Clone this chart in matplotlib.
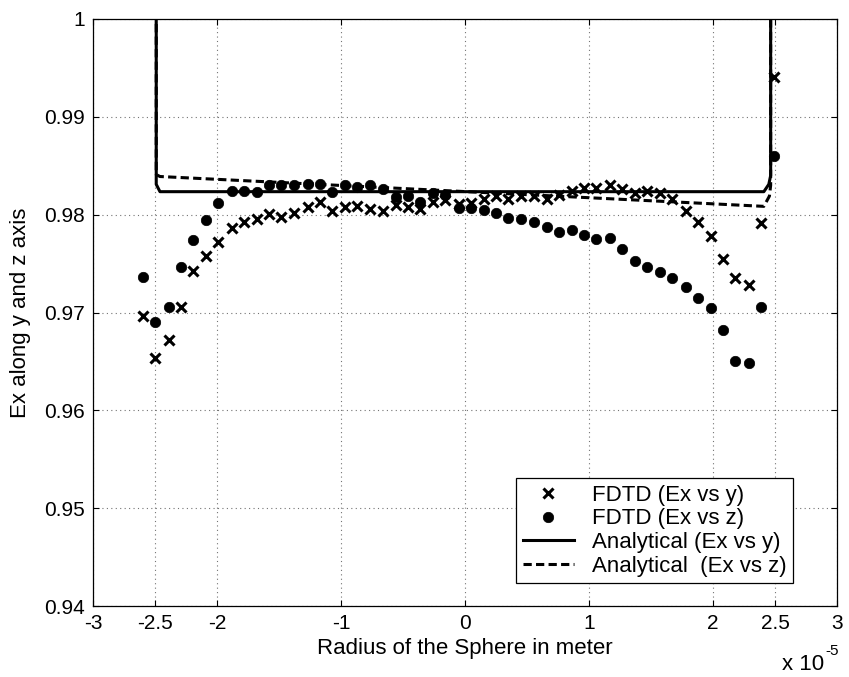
import numpy as np
import matplotlib
matplotlib.use("Agg")
import matplotlib.pyplot as plt

plt.rcParams['font.family'] = ['Liberation Sans', 'DejaVu Sans']

# radius positions (x 1e-5 m) of the FDTD samples
r = [-2.60, -2.50, -2.39, -2.29, -2.19, -2.09, -1.99, -1.88, -1.78, -1.68,
     -1.58, -1.48, -1.38, -1.27, -1.17, -1.07, -0.97, -0.87, -0.77, -0.66,
     -0.56, -0.46, -0.36, -0.26, -0.16, -0.05, 0.05, 0.15, 0.25, 0.35,
     0.45, 0.56, 0.66, 0.76, 0.86, 0.96, 1.06, 1.17, 1.27, 1.37,
     1.47, 1.57, 1.67, 1.78, 1.88, 1.98, 2.08, 2.18, 2.29, 2.39, 2.49]

# FDTD, Ex vs y
ex_y = [0.9696, 0.9653, 0.9672, 0.9706, 0.9742, 0.9758, 0.9772, 0.9786, 0.9792, 0.9796,
        0.9801, 0.9798, 0.9802, 0.9808, 0.9813, 0.9804, 0.9808, 0.9809, 0.9806, 0.9804,
        0.9810, 0.9808, 0.9806, 0.9813, 0.9815, 0.9811, 0.9812, 0.9816, 0.9819, 0.9816,
        0.9819, 0.9819, 0.9816, 0.9820, 0.9824, 0.9827, 0.9827, 0.9830, 0.9826, 0.9822,
        0.9824, 0.9822, 0.9816, 0.9804, 0.9793, 0.9778, 0.9755, 0.9735, 0.9728, 0.9791, 0.9941]

# FDTD, Ex vs z
ex_z = [0.9736, 0.9690, 0.9706, 0.9747, 0.9774, 0.9795, 0.9812, 0.9824, 0.9824, 0.9823,
        0.9830, 0.9830, 0.9830, 0.9831, 0.9831, 0.9823, 0.9830, 0.9828, 0.9830, 0.9826,
        0.9818, 0.9819, 0.9813, 0.9822, 0.9820, 0.9807, 0.9807, 0.9805, 0.9802, 0.9797,
        0.9796, 0.9792, 0.9787, 0.9782, 0.9784, 0.9779, 0.9775, 0.9776, 0.9765, 0.9753,
        0.9747, 0.9741, 0.9735, 0.9726, 0.9715, 0.9705, 0.9682, 0.9650, 0.9648, 0.9706, 0.9860]

# analytical curves (go off the top outside the sphere)
ana_y_r = [-2.49, -2.49, -2.46, 2.41, 2.45, 2.465, 2.465]
ana_y = [1.05, 0.9831, 0.98235, 0.98235, 0.9831, 0.9840, 1.05]
ana_z_r = [-2.49, -2.49, -2.46, 2.41, 2.455, 2.465, 2.465]
ana_z = [1.05, 0.9841, 0.9839, 0.98085, 0.9819, 0.9830, 1.05]

xticks = [-3, -2.5, -2, -1, 0, 1, 2, 2.5, 3]
xticklabels = ['-3', '-2.5', '-2', '-1', '0', '1', '2', '2.5', '3']
yticks = [0.94, 0.95, 0.96, 0.97, 0.98, 0.99, 1.0]
yticklabels = ['0.94', '0.95', '0.96', '0.97', '0.98', '0.99', '1']

fig = plt.figure(figsize=(8.49, 6.77), dpi=100)
W, H = 849.0, 677.0
ax = fig.add_axes([93 / W, 1 - 606 / H, (837 - 93) / W, (606 - 19) / H])

ax.plot(r, ex_y, 'x', color='k', ms=6.5, mew=2.2, label='FDTD (Ex vs y)')
ax.plot(r, ex_z, 'o', color='k', ms=7.5, mew=0.5, label='FDTD (Ex vs z)')
ax.plot(ana_y_r, ana_y, '-', color='k', lw=2.2, label='Analytical (Ex vs y)')
ax.plot(ana_z_r, ana_z, '--', color='k', lw=2.2, dashes=(2.7, 1.4), label='Analytical  (Ex vs z)')

ax.set_xlim(-3, 3)
ax.set_ylim(0.94, 1.0)
ax.set_xticks(xticks)
ax.set_xticklabels(xticklabels)
ax.set_yticks(yticks)
ax.set_yticklabels(yticklabels)
ax.tick_params(direction='in', length=4, width=0.8, labelsize=15, pad=6,
               top=True, right=True)
ax.grid(True, linestyle=(0, (1, 3)), color='0.45', lw=0.8)
for s in ax.spines.values():
    s.set_linewidth(0.9)

ax.set_xlabel('Radius of the Sphere in meter', fontsize=16)
ax.xaxis.set_label_coords(0.5, -0.055)
ax.set_ylabel('Ex along y and z axis', fontsize=16)
ax.yaxis.set_label_coords(-0.083, 0.5)

# exponent of the x axis, MATLAB style
fig.text(782 / W, 1 - 670 / H, 'x 10', fontsize=16, va='baseline')
fig.text(825 / W, 1 - 655 / H, '-5', fontsize=11, va='baseline')

leg = ax.legend(loc='upper right', bbox_to_anchor=((793 - 93) / 744.0, (606 - 478) / 587.0),
                borderaxespad=0, fontsize=16, labelspacing=0.12, borderpad=0.3,
                handlelength=2.3, handletextpad=0.8, fancybox=False, framealpha=1,
                edgecolor='k')
leg.get_frame().set_linewidth(0.9)

fig.savefig('out.png', dpi=100)
